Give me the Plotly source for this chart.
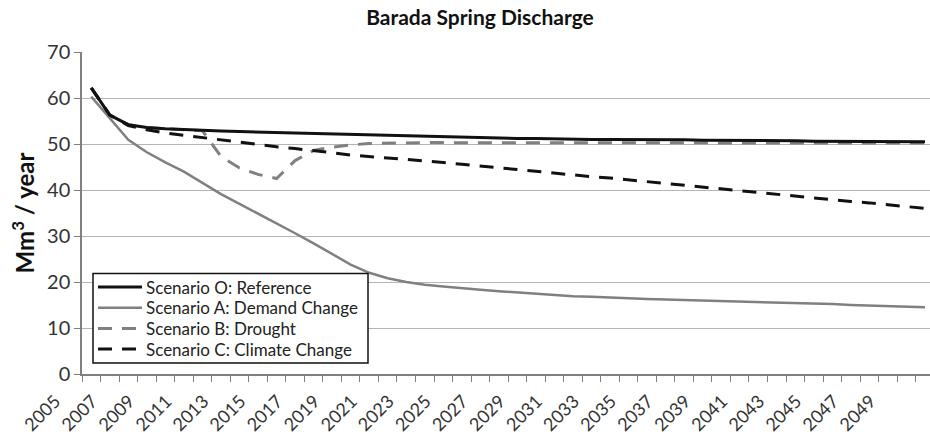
import plotly.graph_objects as go

# Annual spring discharge projections, Mm3/year
years = list(range(2005, 2051))

scenario_o = [62.2, 56.3, 54.2, 53.6, 53.3, 53.1, 52.9, 52.8, 52.7, 52.6,
              52.5, 52.4, 52.3, 52.2, 52.0, 51.9, 51.8, 51.7, 51.6, 51.5,
              51.4, 51.4, 51.3, 51.2, 51.2, 51.1, 51.1, 51.0, 51.0, 51.0,
              50.9, 50.9, 50.9, 50.8, 50.8, 50.8, 50.7, 50.7, 50.7, 50.6,
              50.6, 50.6, 50.6, 50.5, 50.5, 50.5]

scenario_a = [60.3, 55.5, 50.9, 48.2, 46.0, 44.0, 41.6, 39.1, 37.0, 34.9,
              32.7, 30.6, 28.4, 26.1, 23.8, 22.0, 20.8, 20.0, 19.4, 19.0,
              18.6, 18.3, 18.0, 17.7, 17.5, 17.2, 16.9, 16.8, 16.6, 16.5,
              16.3, 16.2, 16.1, 16.0, 15.8, 15.7, 15.6, 15.5, 15.4, 15.3,
              15.2, 15.0, 14.9, 14.8, 14.6, 14.5]

scenario_b = [62.2, 56.3, 54.2, 53.6, 53.3, 53.1, 52.9, 47.3, 44.8, 43.4,
              42.5, 46.4, 48.6, 49.3, 49.8, 50.1, 50.2, 50.3, 50.3, 50.3,
              50.3, 50.3, 50.3, 50.3, 50.3, 50.3, 50.3, 50.3, 50.3, 50.3,
              50.3, 50.3, 50.3, 50.3, 50.3, 50.3, 50.2, 50.2, 50.2, 50.2,
              50.2, 50.2, 50.2, 50.2, 50.2, 50.2]

scenario_c = [62.2, 56.3, 54.0, 53.1, 52.4, 51.9, 51.3, 50.8, 50.4, 49.9,
              49.4, 49.0, 48.6, 48.1, 47.6, 47.3, 47.0, 46.7, 46.3, 46.0,
              45.6, 45.2, 44.8, 44.5, 44.1, 43.7, 43.3, 42.9, 42.6, 42.2,
              41.8, 41.4, 41.0, 40.6, 40.2, 39.8, 39.4, 39.0, 38.7, 38.3,
              37.9, 37.5, 37.2, 36.8, 36.4, 36.0]

series_names = ["Scenario O: Reference", "Scenario A: Demand Change",
                "Scenario B: Drought", "Scenario C: Climate Change"]

tick_years = list(range(2005, 2050, 2))
tick_labels = [str(y) for y in tick_years]
y_ticks = list(range(0, 71, 10))

FONT = "Lato, 'Liberation Sans', sans-serif"
GREY = "#808080"
BLACK = "#111111"
DASH = "14px,10px"

styles = [
    dict(color=BLACK, width=3, dash="solid"),
    dict(color=GREY, width=2.5, dash="solid"),
    dict(color=GREY, width=3, dash=DASH),
    dict(color=BLACK, width=3, dash=DASH),
]
series = [scenario_o, scenario_a, scenario_b, scenario_c]

# Plot-area geometry (pixels) used to place the boxed key
W, H = 930, 440
ML, MR, MT, MB = 82, 0, 52, 66
PW, PH = W - ML - MR, H - MT - MB


def px_x(px):
    return (px - ML) / PW


def px_y(py):
    return (H - MB - py) / PH


fig = go.Figure()
# drawing order: demand, drought, reference, climate
for idx in [1, 2, 0, 3]:
    fig.add_trace(go.Scatter(x=years, y=series[idx], mode="lines",
                             name=series_names[idx], line=styles[idx],
                             showlegend=False))

# Boxed key in the lower-left corner of the plot
shapes = [dict(type="rect", xref="paper", yref="paper",
               x0=px_x(93), x1=px_x(368), y0=px_y(363), y1=px_y(273.5),
               fillcolor="white", line=dict(color=BLACK, width=1.5),
               layer="above")]
annotations = []
row_y = [287, 307.7, 328.4, 349]
for name, st, ry in zip(series_names, styles, row_y):
    shapes.append(dict(type="line", xref="paper", yref="paper",
                       x0=px_x(98), x1=px_x(142), y0=px_y(ry), y1=px_y(ry),
                       line=dict(color=st["color"], width=st["width"],
                                 dash=st["dash"]),
                       layer="above"))
    annotations.append(dict(text=name, xref="paper", yref="paper",
                            x=px_x(144), y=px_y(ry), xanchor="left",
                            yanchor="middle", showarrow=False,
                            font=dict(family=FONT, size=17, color="#222222")))

fig.update_layout(
    width=W, height=H,
    margin=dict(l=ML, r=MR, t=MT, b=MB),
    paper_bgcolor="white", plot_bgcolor="white",
    title=dict(text="<b>Barada Spring Discharge</b>", x=480 / W,
               xanchor="center", xref="container", y=1 - 18 / H,
               yanchor="middle", yref="container",
               font=dict(family=FONT, size=21, color=BLACK)),
    showlegend=False,
    shapes=shapes,
    annotations=annotations,
    xaxis=dict(range=[2004.5, 2050.27], tickmode="array",
               tickvals=tick_years, ticktext=tick_labels, tickangle=-45,
               ticks="", showgrid=False, zeroline=False,
               showline=True, linecolor=GREY, linewidth=1.5,
               ticklabelshift=-36, ticklabelstandoff=8,
               tickfont=dict(family=FONT, size=18, color="#333333"),
               minor=dict(tickmode="array",
                          tickvals=[y - 0.5 for y in years] + [years[-1] + 0.5],
                          ticks="outside", ticklen=6, tickcolor=GREY,
                          tickwidth=1, showgrid=False)),
    yaxis=dict(range=[0, 70], tickmode="array", tickvals=y_ticks,
               showgrid=True, gridcolor="#b4b4b4", gridwidth=1,
               zeroline=False, showline=True, linecolor=GREY, linewidth=1.5,
               ticks="outside", ticklen=6, tickcolor=GREY,
               tickfont=dict(family=FONT, size=20, color="#333333"),
               title=dict(text="<b>Mm<sup>3</sup> / year</b>", standoff=6,
                          font=dict(family=FONT, size=24, color=BLACK))),
)

fig.write_html("out.html")
